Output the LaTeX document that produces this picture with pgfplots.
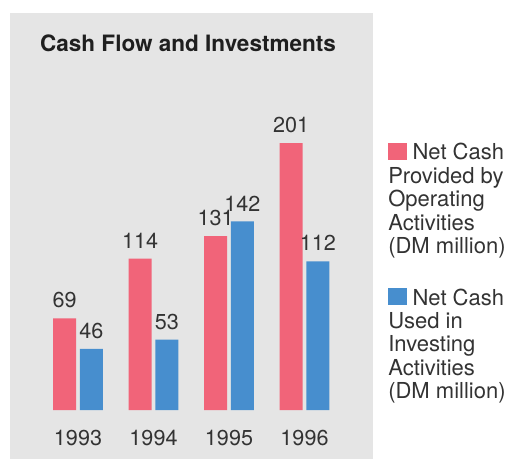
\documentclass[border=0pt]{standalone}
\usepackage{pgfplots}
\pgfplotsset{compat=1.18}
\usepackage{fontspec}
\setmainfont{TeX Gyre Heros}
\definecolor{barred}{HTML}{F16479}
\definecolor{barblue}{HTML}{478ECE}
\definecolor{panel}{HTML}{E5E5E5}
\definecolor{txt}{HTML}{333333}
\newcommand{\lfont}{\fontsize{16.2}{17.25}\selectfont}
\newcommand{\gfont}{\fontsize{16.5}{17.6}\selectfont\baselineskip=17.6pt\relax}
\begin{document}
\begin{tikzpicture}
\useasboundingbox (0,0) rectangle (381.75pt,-344.25pt);
\fill[panel] (7.5pt,-9.75pt) rectangle (279.75pt,-344.25pt);
\node[anchor=base, font=\fontsize{16.9}{19}\selectfont\bfseries, text=black!88, inner sep=0pt] at (141pt,-39pt) {Cash Flow and Investments};
\begin{axis}[
  at={(30.19pt,-307.5pt)}, anchor=south west,
  scale only axis, width=226.5pt, height=229.1pt,
  ybar=2.8pt, bar width=17.25pt,
  xmin=-0.5, xmax=3.5, ymin=0, ymax=230,
  enlargelimits=false, clip=false,
  axis line style={draw=none}, major tick length=0pt,
  ytick=\empty, xtick=data, xticklabels={1993,1994,1995,1996},
  xticklabel style={anchor=north, inner sep=0pt, yshift=-15pt, font=\lfont, text=txt},
  nodes near coords,
  every node near coord/.append style={anchor=south, inner sep=0pt, yshift=7.5pt, font=\lfont, text=txt},
  /pgf/number format/assume math mode=true,
]
\addplot[fill=barred, draw=none] coordinates {(0,69) (1,114) (2,131) (3,201)};
\addplot[fill=barblue, draw=none] coordinates {(0,46) (1,53) (2,142) (3,112)};
\end{axis}
\node[anchor=base west, inner sep=0pt, text=txt] at (291pt,-120pt)
  {\parbox[t]{94pt}{\gfont\raggedright\textcolor{barred}{\rule{14.25pt}{12.75pt}}\hspace{4pt}Net Cash\\Provided by\\Operating\\Activities\\(DM million)}};
\node[anchor=base west, inner sep=0pt, text=txt] at (291pt,-228.75pt)
  {\parbox[t]{94pt}{\gfont\raggedright\textcolor{barblue}{\rule{14.25pt}{12.75pt}}\hspace{4pt}Net Cash\\Used in\\Investing\\Activities\\(DM million)}};
\end{tikzpicture}
\end{document}
